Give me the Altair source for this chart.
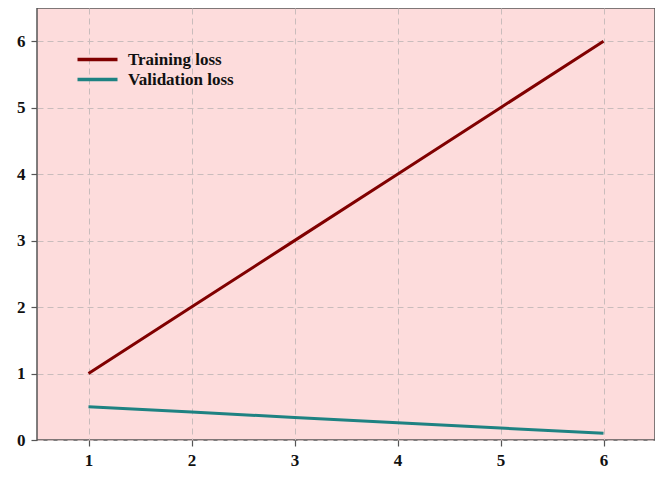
import altair as alt
import pandas as pd

epochs = [1, 2, 3, 4, 5, 6]
training_loss = [1, 2, 3, 4, 5, 6]
validation_loss = [0.5, 0.42, 0.34, 0.26, 0.18, 0.1]
series_names = ["Training loss", "Validation loss"]
series_colors = ["#800000", "#1e8282"]

rows = []
for e, t, v in zip(epochs, training_loss, validation_loss):
    rows.append({"epoch": e, "loss": t, "series": series_names[0]})
    rows.append({"epoch": e, "loss": v, "series": series_names[1]})
df = pd.DataFrame(rows)

font = "Liberation Serif"

chart = alt.Chart(df).mark_line(strokeWidth=3).encode(
    x=alt.X("epoch:Q", scale=alt.Scale(domain=[0.5, 6.5], nice=False, zero=False),
            axis=alt.Axis(values=epochs, format="d", title=None)),
    y=alt.Y("loss:Q", scale=alt.Scale(domain=[0, 6.5], nice=False),
            axis=alt.Axis(values=[0, 1, 2, 3, 4, 5, 6], format="d", title=None)),
    color=alt.Color("series:N", scale=alt.Scale(domain=series_names, range=series_colors),
                    legend=alt.Legend(title=None, orient="none", legendX=52, legendY=43,
                                      symbolType="M-4,0H4", symbolSize=100,
                                      symbolStrokeWidth=3.5, labelFont=font,
                                      labelFontWeight="bold", labelFontSize=17,
                                      labelColor="#111", rowPadding=2, labelOffset=22)),
).properties(
    width=618, height=432,
    autosize=alt.AutoSizeParams(type="none"),
    padding={"left": 29, "top": 0, "right": 0, "bottom": 30},
).configure_view(
    fill="#fddcdc", stroke="#555555", strokeWidth=1.5
).configure_axis(
    labelFont=font, labelFontWeight="bold", labelFontSize=17, labelColor="#111",
    grid=True, gridDash=[6, 4], gridColor="#c9bcbc", gridWidth=1,
    domain=False, tickColor="#555555", tickSize=6, tickWidth=1.2, labelPadding=6,
)

chart.save("out.html", embed_options={"renderer": "svg", "actions": False})
